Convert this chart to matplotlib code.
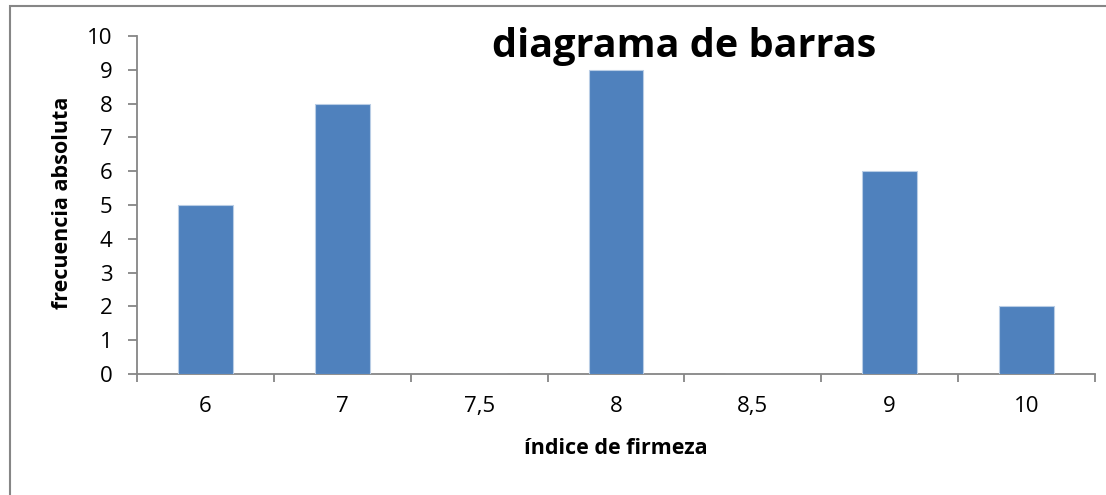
import matplotlib; matplotlib.use("Agg")
import matplotlib.pyplot as plt
from matplotlib.patches import Rectangle
import numpy as np

cats=["6","7","7,5","8","8,5","9","10"]
vals=[5,8,0,9,0,6,2]
yticks=list(range(0,11))

AX="#868686"; BAR="#4F81BD"; EDGE_BAR="#B9CDE5"
plt.rcParams["font.family"]=["Open Sans","DejaVu Sans"]

fig=plt.figure(figsize=(11.06,4.95),dpi=100)
# outer chart border: only left and top edges fall inside the picture
fig.patches.append(Rectangle((10/1106,-0.05),1.2,1-6/495+0.05,transform=fig.transFigure,
                             fill=False,edgecolor=AX,lw=1.5))
ax=fig.add_axes([137/1106,1-374/495,(1095-137)/1106,(374-36)/495])
x=np.arange(len(cats))
ax.bar(x,vals,width=0.4,color=BAR,edgecolor=EDGE_BAR,lw=0.8,zorder=3)
ax.set_xlim(-0.5,len(cats)-0.5); ax.set_ylim(0,10)
ax.set_yticks(yticks); ax.set_yticklabels([str(v) for v in yticks],fontsize=16)
ax.set_xticks(x); ax.set_xticklabels(cats,fontsize=16)
ax.set_xticks(np.arange(-0.5,len(cats)),minor=True)
ax.tick_params(axis="x",which="major",length=0,pad=16)
ax.tick_params(axis="x",which="minor",length=5.5,color=AX,width=1.3)
ax.tick_params(axis="y",length=6.5,color=AX,width=1.3,pad=11)
for s in ["top","right"]: ax.spines[s].set_visible(False)
for s in ["left","bottom"]: ax.spines[s].set_color(AX); ax.spines[s].set_linewidth(1.3)
fig.text(616/1106,1-449/495,"índice de firmeza",fontsize=15.5,fontweight="bold",ha="center",va="center")
fig.text(62/1106,1-203/495,"frecuencia absoluta",fontsize=15.5,fontweight="bold",ha="center",va="center",rotation=90)
fig.text(684/1106,1-47/495,"diagrama de barras",fontsize=28.5,fontweight="bold",ha="center",va="center")
fig.savefig("out.png")
